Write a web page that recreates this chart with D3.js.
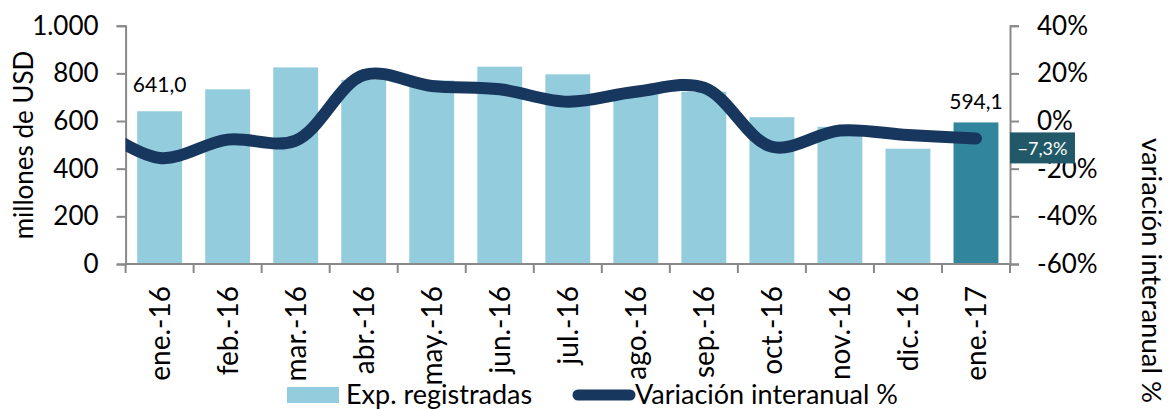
<!DOCTYPE html>
<html>
<head>
<meta charset="utf-8">
<script src="https://cdn.jsdelivr.net/npm/d3@7"></script>
<style>
  body { margin: 0; background: #fff; }
  text { font-family: Lato, "DejaVu Sans", sans-serif; fill: #000; }
</style>
</head>
<body>
<div class="canvas"></div>
<script>
const canvasWidth = 1172;
const canvasHeight = 409;
const margin = { top: 25.7, left: 125.6, bottom: 145, right: 162 };
const graphWidth = canvasWidth - margin.left - margin.right;
const graphHeight = canvasHeight - margin.top - margin.bottom;

// data
const months = ['ene.-16', 'feb.-16', 'mar.-16', 'abr.-16', 'may.-16', 'jun.-16', 'jul.-16',
  'ago.-16', 'sep.-16', 'oct.-16', 'nov.-16', 'dic.-16', 'ene.-17'];
const exports = [641.0, 733, 825, 773, 770, 828, 796, 725, 723, 616, 576, 484, 594.1];
const variation = [-15.5, -7.8, -8.2, 19.3, 14.7, 13.3, 8.1, 12.3, 14.0, -10.8, -4.0, -5.9, -7.3];
const prevVariation = -1; // dic.-15, runs off the left edge
const leftTicks = [0, 200, 400, 600, 800, 1000];
const rightTicks = [-60, -40, -20, 0, 20, 40];

const svg = d3.select('.canvas')
  .append('svg')
  .attr('width', canvasWidth)
  .attr('height', canvasHeight);

const graph = svg.append('g')
  .attr('transform', `translate(${margin.left},${margin.top})`);

const x = d3.scaleBand()
  .domain(months)
  .range([0, graphWidth])
  .paddingInner(0.34)
  .paddingOuter(0.17);

const y = d3.scaleLinear()
  .domain([0, 1000])
  .range([graphHeight, 0]);

const y2 = d3.scaleLinear()
  .domain([-60, 40])
  .range([graphHeight, 0]);

// bars
graph.selectAll('rect.bar')
  .data(exports)
  .enter()
  .append('rect')
  .attr('class', 'bar')
  .attr('x', (d, i) => x(months[i]))
  .attr('y', d => y(d))
  .attr('width', x.bandwidth())
  .attr('height', d => graphHeight - y(d))
  .attr('fill', (d, i) => i === months.length - 1 ? '#31859c' : '#93cddd');

// axes
const axisColor = '#898989';
const fmtLeft = d => d === 1000 ? '1.000' : d;

const yAxisGroup = graph.append('g')
  .call(d3.axisLeft(y).tickValues(leftTicks).tickFormat(fmtLeft).tickSize(9).tickPadding(18));

const y2AxisGroup = graph.append('g')
  .attr('transform', `translate(${graphWidth},0)`)
  .call(d3.axisRight(y2).tickValues(rightTicks).tickFormat(d => d + '%').tickSize(9).tickPadding(18));

const xAxisGroup = graph.append('g')
  .attr('transform', `translate(0,${graphHeight})`);
xAxisGroup.append('line')
  .attr('x1', 0).attr('x2', graphWidth)
  .attr('stroke', axisColor).attr('stroke-width', 2);
xAxisGroup.selectAll('line.tick')
  .data(d3.range(months.length + 1))
  .enter()
  .append('line')
  .attr('class', 'tick')
  .attr('x1', i => i * x.step())
  .attr('x2', i => i * x.step())
  .attr('y1', 0).attr('y2', 9)
  .attr('stroke', axisColor).attr('stroke-width', 2);
xAxisGroup.selectAll('text')
  .data(months)
  .enter()
  .append('text')
  .attr('transform', d => `translate(${x(d) + x.bandwidth() / 2},22) rotate(-90)`)
  .attr('text-anchor', 'end')
  .attr('dy', '0.36em')
  .attr('font-size', 28)
  .text(d => d);

[yAxisGroup, y2AxisGroup].forEach(g => {
  g.select('.domain').attr('stroke', axisColor).attr('stroke-width', 2);
  g.selectAll('.tick line').attr('stroke', axisColor).attr('stroke-width', 2);
  g.selectAll('.tick text')
    .attr('font-size', 26)
    .attr('font-family', 'Lato, sans-serif')
    .attr('fill', '#000');
});

// line (smoothed), clipped to plot area
svg.append('clipPath')
  .attr('id', 'plotClip')
  .append('rect')
  .attr('x', 0).attr('y', -40)
  .attr('width', graphWidth).attr('height', graphHeight + 80);

const linePts = [[x(months[0]) + x.bandwidth() / 2 - x.step(), y2(prevVariation)]]
  .concat(variation.map((v, i) => [x(months[i]) + x.bandwidth() / 2, y2(v)]));

graph.append('path')
  .attr('d', d3.line().curve(d3.curveCatmullRom.alpha(0.5))(linePts))
  .attr('clip-path', 'url(#plotClip)')
  .attr('fill', 'none')
  .attr('stroke', '#17375e')
  .attr('stroke-width', 12)
  .attr('stroke-linecap', 'round');

// data labels
const first = 0, last = months.length - 1;
graph.append('text')
  .attr('x', x(months[first]) + x.bandwidth() / 2)
  .attr('y', y(exports[first]) - 19)
  .attr('text-anchor', 'middle')
  .attr('font-size', 21)
  .text(d3.format('.1f')(exports[first]).replace('.', ','));
graph.append('text')
  .attr('x', x(months[last]) + x.bandwidth() / 2)
  .attr('y', y(exports[last]) - 13)
  .attr('text-anchor', 'middle')
  .attr('font-size', 21)
  .text(d3.format('.1f')(exports[last]).replace('.', ','));

const boxY = y2(variation[last]) - 6;
graph.append('rect')
  .attr('x', graphWidth)
  .attr('y', boxY)
  .attr('width', 65)
  .attr('height', 31)
  .attr('fill', '#215968');
graph.append('text')
  .attr('x', graphWidth + 32.5)
  .attr('y', boxY + 23)
  .attr('text-anchor', 'middle')
  .attr('font-size', 18)
  .style('fill', '#fff')
  .text(d3.format('.1f')(variation[last]).replace('.', ',') + '%');

// axis titles
svg.append('text')
  .attr('transform', 'translate(33,145) rotate(-90)')
  .attr('text-anchor', 'middle')
  .attr('font-size', 26)
  .text('millones de USD');
svg.append('text')
  .attr('transform', 'translate(1142,138) rotate(90)')
  .attr('text-anchor', 'start')
  .attr('font-size', 27.5)
  .attr('font-family', 'Open Sans, sans-serif')
  .text('variación interanual %');

// legend
const legend = svg.append('g');
legend.append('rect')
  .attr('x', 287).attr('y', 387)
  .attr('width', 52).attr('height', 16)
  .attr('fill', '#93cddd');
legend.append('text')
  .attr('x', 346).attr('y', 404)
  .attr('font-size', 27)
  .text('Exp. registradas');
legend.append('line')
  .attr('x1', 578).attr('x2', 630)
  .attr('y1', 395).attr('y2', 395)
  .attr('stroke', '#17375e')
  .attr('stroke-width', 11)
  .attr('stroke-linecap', 'round');
legend.append('text')
  .attr('x', 635).attr('y', 404)
  .attr('font-size', 27)
  .text('Variación interanual %');
</script>
</body>
</html>
